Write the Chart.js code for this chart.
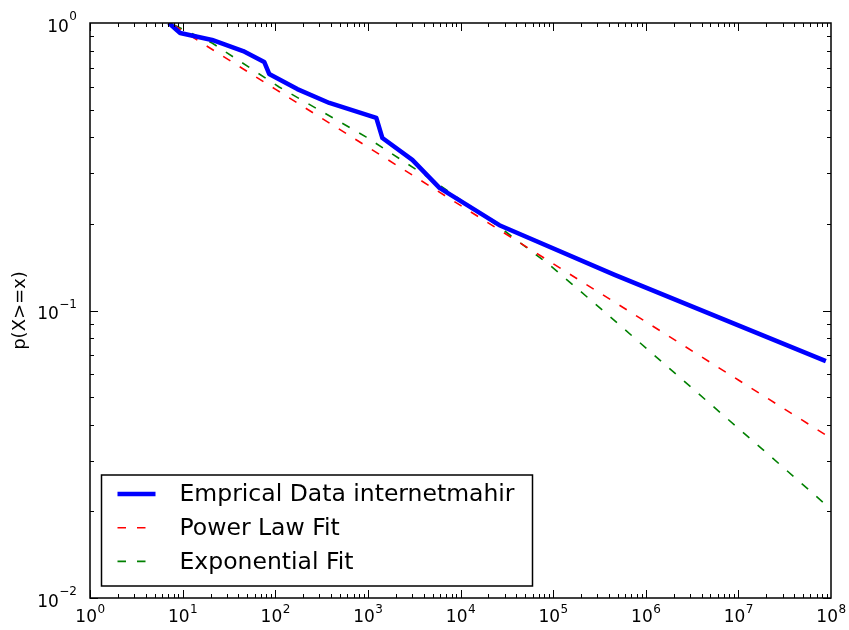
<!DOCTYPE html>
<html>
<head>
<meta charset="utf-8">
<script src="https://cdn.jsdelivr.net/npm/chart.js@4"></script>
<style>
  html, body { margin: 0; padding: 0; background: #fff; }
  #wrap { width: 849px; height: 630px; }
</style>
</head>
<body>
<div id="wrap"><canvas id="chart" width="849" height="630"></canvas></div>
<script>
// Empirical CCDF
const empX = [7.1, 9.4, 20.8, 45, 76, 86, 173, 384, 1233, 1435, 3020, 5930, 26300, 462000, 8.8e7]
const empY = [1.0, 0.923, 0.873, 0.799, 0.732, 0.665, 0.589, 0.527, 0.468, 0.398, 0.334, 0.267, 0.198, 0.133, 0.0667]

// Power law fit
const powX = [8, 10, 100, 1e3, 1e4, 1e5, 1e6, 1e7, 8.8e7]
const powY = [0.982, 0.939, 0.589, 0.370, 0.232, 0.1455, 0.0914, 0.0573, 0.0369]

// Exponential fit
const expX = [8.1, 20.8, 110, 963, 4980, 26400, 91600, 360000, 2.51e6, 1.71e7, 8.8e7]
const expY = [0.984, 0.852, 0.599, 0.401, 0.284, 0.195, 0.144, 0.0988, 0.0573, 0.0335, 0.0211]

// tick labels (10^exp)
const xTickExps = [0, 1, 2, 3, 4, 5, 6, 7, 8]
const yTickExps = [0, -1, -2]

const labels = ["Emprical Data internetmahir", "Power Law Fit", "Exponential Fit"]
const FONT = "DejaVu Sans"

function toPoints(xs, ys) {
  return xs.map((x, i) => ({ x: x, y: ys[i] }))
}

function expText(e) {
  return String(e).replace("-", "\u2212")
}

// frame, inward ticks, tick labels and legend
const decorPlugin = {
  id: "decor",
  afterDatasetsDraw(chart) {
    const ctx = chart.ctx
    const a = chart.chartArea
    const xs = chart.scales.x
    const ys = chart.scales.y
    ctx.save()

    // ticks
    ctx.strokeStyle = "#000"
    ctx.lineWidth = 1
    ctx.beginPath()
    for (let d = 0; d < 8; d++) {
      for (let m = 1; m <= 9; m++) {
        const px = Math.round(xs.getPixelForValue(m * Math.pow(10, d))) + 0.5
        const len = m === 1 ? 8 : 4
        ctx.moveTo(px, a.bottom); ctx.lineTo(px, a.bottom - len)
        ctx.moveTo(px, a.top); ctx.lineTo(px, a.top + len)
      }
    }
    for (let d = -2; d < 0; d++) {
      for (let m = 1; m <= 9; m++) {
        const py = Math.round(ys.getPixelForValue(m * Math.pow(10, d))) + 0.5
        const len = m === 1 ? 8 : 4
        ctx.moveTo(a.left, py); ctx.lineTo(a.left + len, py)
        ctx.moveTo(a.right, py); ctx.lineTo(a.right - len, py)
      }
    }
    ctx.stroke()

    // frame
    ctx.lineWidth = 1.5
    ctx.strokeRect(a.left, a.top, a.right - a.left, a.bottom - a.top)

    // tick labels
    ctx.fillStyle = "#000"
    ctx.textBaseline = "alphabetic"
    const big = "17px '" + FONT + "'"
    const small = "12px '" + FONT + "'"
    xTickExps.forEach((e) => {
      const px = xs.getPixelForValue(Math.pow(10, e))
      ctx.font = big
      const w1 = ctx.measureText("10").width
      ctx.font = small
      const w2 = ctx.measureText(expText(e)).width
      const x0 = px - (w1 + w2) / 2
      ctx.font = big
      ctx.textAlign = "left"
      ctx.fillText("10", x0, a.bottom + 23.5)
      ctx.font = small
      ctx.fillText(expText(e), x0 + w1 + 0.5, a.bottom + 15)
    })
    yTickExps.forEach((e) => {
      const py = ys.getPixelForValue(Math.pow(10, e))
      ctx.font = small
      const w2 = ctx.measureText(expText(e)).width
      const right = a.left - 13
      ctx.textAlign = "left"
      ctx.fillText(expText(e), right - w2, py - 3)
      ctx.font = big
      ctx.textAlign = "right"
      ctx.fillText("10", right - w2 - 0.5, py + 8.5)
    })

    // legend
    const lx = a.left + 11.5
    const ly = a.bottom - 123
    const lw = 431
    const lh = 111
    ctx.fillStyle = "#fff"
    ctx.fillRect(lx, ly, lw, lh)
    ctx.lineWidth = 1.5
    ctx.strokeStyle = "#000"
    ctx.strokeRect(lx, ly, lw, lh)
    ctx.font = "23.5px '" + FONT + "'"
    ctx.textAlign = "left"
    ctx.textBaseline = "middle"
    chart.data.datasets.forEach((ds, i) => {
      const rowY = ly + 19 + i * 33.7
      ctx.save()
      ctx.strokeStyle = ds.borderColor
      ctx.lineWidth = ds.borderWidth
      ctx.setLineDash(ds.borderDash || [])
      ctx.beginPath()
      ctx.moveTo(lx + 16, rowY)
      ctx.lineTo(lx + 54, rowY)
      ctx.stroke()
      ctx.restore()
      ctx.fillStyle = "#000"
      ctx.fillText(ds.label, lx + 78, rowY + 1)
    })

    ctx.restore()
  },
}

new Chart(document.getElementById("chart"), {
  type: "line",
  data: {
    datasets: [
      {
        label: labels[0],
        data: toPoints(empX, empY),
        borderColor: "#0000ff",
        borderWidth: 4.5,
        pointRadius: 0,
        tension: 0,
        borderJoinStyle: "round",
      },
      {
        label: labels[1],
        data: toPoints(powX, powY),
        borderColor: "#ff0000",
        borderWidth: 1.6,
        borderDash: [8.5, 11],
        pointRadius: 0,
        tension: 0,
      },
      {
        label: labels[2],
        data: toPoints(expX, expY),
        borderColor: "#008000",
        borderWidth: 1.6,
        borderDash: [8.5, 11],
        pointRadius: 0,
        tension: 0,
      },
    ],
  },
  options: {
    responsive: false,
    animation: false,
    events: [],
    layout: { padding: { top: 23, right: 18, bottom: 0, left: 0 } },
    plugins: {
      legend: { display: false },
      tooltip: { enabled: false },
    },
    scales: {
      x: {
        type: "logarithmic",
        min: 1,
        max: 1e8,
        grid: { display: false },
        border: { display: false },
        ticks: { display: false },
        afterFit: (s) => { s.height = 32 },
      },
      y: {
        type: "logarithmic",
        min: 0.01,
        max: 1,
        grid: { display: false },
        border: { display: false },
        ticks: { display: false },
        title: {
          display: true,
          text: "p(X>=x)",
          color: "#000",
          font: { family: FONT, size: 18 },
          padding: { top: 10, bottom: 0 },
        },
        afterFit: (s) => { s.width = 90 },
      },
    },
  },
  plugins: [decorPlugin],
})
</script>
</body>
</html>
